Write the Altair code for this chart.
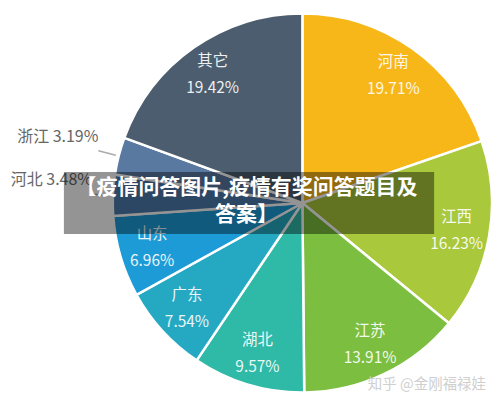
import math
import altair as alt
import pandas as pd

names = ["河南", "江西", "江苏", "湖北", "广东", "山东", "河北", "浙江", "其它"]
values = [19.71, 16.23, 13.91, 9.57, 7.54, 6.96, 3.48, 3.19, 19.42]
inside = [True, True, True, True, True, True, False, False, True]
colors = ["#F8B719", "#A9C83B", "#7CBE3F", "#2FB9A7", "#25A9C3", "#1C9BD7",
          "#4B7BAD", "#5A79A0", "#4B5D6E"]

banner_lines = ["【疫情问答图片,疫情有奖问答题目及", "答案】"]
watermark = ["知乎 @金刚福禄娃"]

FONT = "Noto Sans CJK SC"
total = sum(values)

df = pd.DataFrame({"name": names, "value": values, "order": list(range(len(names))),
                   "inside": inside})

theta_scale = alt.Scale(domain=[0, total], range=[0, 2 * math.pi])
color_scale = alt.Scale(domain=names, range=colors)

base = alt.Chart(df).transform_window(
    end="sum(value)", sort=[alt.SortField("order")], frame=[None, 0]
).transform_calculate(
    start="datum.end - datum.value",
    mid="datum.end - datum.value / 2",
    label_in="datum.name + '\\n' + format(datum.value, '.2f') + '%'",
    label_out="datum.name + ' ' + format(datum.value, '.2f') + '%'",
)

pie = base.mark_arc(outerRadius=190, stroke="white", strokeWidth=2.5).encode(
    theta=alt.Theta("start:Q", scale=theta_scale),
    theta2="end:Q",
    color=alt.Color("name:N", scale=color_scale, legend=None),
    order=alt.Order("order:Q"),
)

inner_text = base.transform_filter("datum.inside").mark_text(
    radius=157, font=FONT, fontSize=15.5, lineBreak="\n", lineHeight=27,
    color="white", opacity=0.9, align="center", baseline="middle", dy=-13.5,
).encode(
    theta=alt.Theta("mid:Q", scale=theta_scale),
    text="label_in:N",
)

leader = base.transform_filter("!datum.inside").transform_calculate(
    a="datum.mid - 0.06", b="datum.mid + 0.06"
).mark_arc(innerRadius=193, outerRadius=211, color="#aaaaaa").encode(
    theta=alt.Theta("a:Q", scale=theta_scale),
    theta2="b:Q",
)

outer_text = base.transform_filter("!datum.inside").mark_text(
    radius=211, font=FONT, fontSize=16, color="#666666",
    align="right", baseline="bottom", dy=-6,
).encode(
    theta=alt.Theta("mid:Q", scale=theta_scale),
    text="label_out:N",
)

banner_df = pd.DataFrame({"line": ["\n".join(banner_lines)]})

banner_rect = alt.Chart(banner_df).mark_rect(
    color="black", opacity=0.42
).encode(
    x=alt.value(-49), x2=alt.value(322), y=alt.value(159), y2=alt.value(221)
)

banner_text = alt.Chart(banner_df).mark_text(
    font=FONT, fontSize=21, fontWeight="bold", color="white",
    align="center", baseline="middle", lineBreak="\n", lineHeight=27,
).encode(
    x=alt.value(134), y=alt.value(175),
    text="line:N",
)

wm = alt.Chart(pd.DataFrame({"t": watermark})).mark_text(
    font=FONT, fontSize=14.5, color="#cfcfcf", align="right", baseline="middle",
).encode(x=alt.value(374), y=alt.value(372), text="t:N")

chart = alt.layer(pie, inner_text, leader, outer_text, banner_rect, banner_text, wm).properties(
    width=380, height=380,
    padding={"left": 105, "top": 5, "right": 0, "bottom": 0},
    autosize=alt.AutoSizeParams(type="none"),
    background="white",
).configure_view(stroke=None)

chart.save("out.html", embed_options={"renderer": "svg", "actions": False})
